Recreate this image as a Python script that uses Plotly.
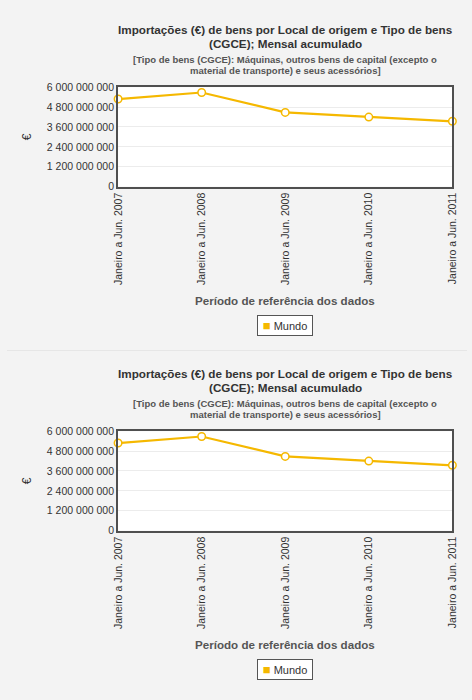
import plotly.graph_objects as go

# ---- data ----
periods = [
    "Janeiro a Jun. 2007",
    "Janeiro a Jun. 2008",
    "Janeiro a Jun. 2009",
    "Janeiro a Jun. 2010",
    "Janeiro a Jun. 2011",
]
mundo = [5.29e9, 5.685e9, 4.48e9, 4.20e9, 3.945e9]
series_name = "Mundo"
title_lines = [
    "Importações (€) de bens por Local de origem e Tipo de bens",
    "(CGCE); Mensal acumulado",
]
subtitle_lines = [
    "[Tipo de bens (CGCE): Máquinas, outros bens de capital (excepto o",
    "material de transporte) e seus acessórios]",
]
x_title = "Período de referência dos dados"
y_title = "€"

# ---- styling / layout ----
W, H = 472, 700
GOLD = "#f5b800"
FONT = "Liberation Sans, Arial, sans-serif"
BG = "#f3f3f3"
X_LEFT, X_RIGHT = 114, 457
PLOT_TOP, PLOT_BOTTOM = 82.7, 183.7
CX = (X_LEFT + X_RIGHT) / 2
offsets = [0, 350]


def px(x):
    return x / W


def py(y):
    return 1 - y / H


fig = go.Figure()
annotations = []
layout_axes = {}

for i, off in enumerate(offsets):
    sfx = "" if i == 0 else str(i + 1)
    fig.add_trace(go.Scatter(
        x=periods, y=mundo, mode="lines+markers", name=series_name,
        line=dict(color=GOLD, width=2.2),
        marker=dict(size=7.5, color="white", line=dict(color=GOLD, width=1.5)),
        cliponaxis=False, showlegend=False,
        xaxis="x" + sfx, yaxis="y" + sfx,
    ))
    layout_axes["xaxis" + sfx] = dict(
        domain=[px(X_LEFT), px(X_RIGHT)], anchor="y" + sfx,
        type="category", range=[0, len(periods) - 1],
        showline=True, mirror=True, linecolor="#4f4f4f", linewidth=2,
        showgrid=False, zeroline=False, ticks="", tickangle=-90,
        tickfont=dict(size=10.5, color="#333", family=FONT),
    )
    layout_axes["yaxis" + sfx] = dict(
        domain=[py(PLOT_BOTTOM + off), py(PLOT_TOP + off)], anchor="x" + sfx,
        range=[0, 6e9], tick0=0, dtick=1.2e9, tickformat=",d",
        showline=True, mirror=True, linecolor="#4f4f4f", linewidth=2,
        gridcolor="#ececec", gridwidth=1, zeroline=False, ticks="",
        tickfont=dict(size=10.5, color="#333", family=FONT),
    )
    for txt, yy in zip(title_lines, [24, 38.3]):
        annotations.append(dict(
            text="<b>" + txt + "</b>", x=px(CX), y=py(yy + off),
            xref="paper", yref="paper", xanchor="center", yanchor="middle",
            showarrow=False, font=dict(size=11.7, color="#333", family=FONT)))
    for txt, yy in zip(subtitle_lines, [54.3, 65.7]):
        annotations.append(dict(
            text="<b>" + txt + "</b>", x=px(CX), y=py(yy + off),
            xref="paper", yref="paper", xanchor="center", yanchor="middle",
            showarrow=False, font=dict(size=9.5, color="#555", family=FONT)))
    annotations.append(dict(
        text="<b>" + x_title + "</b>", x=px(CX), y=py(300 + off),
        xref="paper", yref="paper", xanchor="center", yanchor="middle",
        showarrow=False, font=dict(size=11.6, color="#555", family=FONT)))
    annotations.append(dict(
        text=y_title, x=px(20), y=py(133 + off), textangle=-90,
        xref="paper", yref="paper", xanchor="center", yanchor="middle",
        showarrow=False, font=dict(size=12, color="#333", family=FONT)))
    # legend box
    annotations.append(dict(
        text="<span style='color:%s;font-size:13px'>■</span> %s"
             % (GOLD, series_name),
        x=px(CX), y=py(325 + off), xref="paper", yref="paper",
        xanchor="center", yanchor="middle", showarrow=False,
        width=50, height=15, align="center", borderpad=2,
        bordercolor="#555", borderwidth=1, bgcolor="white",
        font=dict(size=11, color="#333", family=FONT)))

fig.update_layout(
    width=W, height=H, margin=dict(l=0, r=0, t=0, b=0),
    paper_bgcolor=BG, plot_bgcolor="white",
    separators=", ", font=dict(family=FONT, color="#333"),
    showlegend=False,
    annotations=annotations,
    shapes=[dict(type="line", xref="paper", yref="paper",
                 x0=0, x1=1, y0=py(350.5), y1=py(350.5),
                 line=dict(color="#e6e6e6", width=1))],
    **layout_axes,
)

fig.write_html(
    "out.html",
    config={"displayModeBar": False},
    post_script="document.body.style.margin='0';"
                "document.body.style.background='%s';" % BG,
)
